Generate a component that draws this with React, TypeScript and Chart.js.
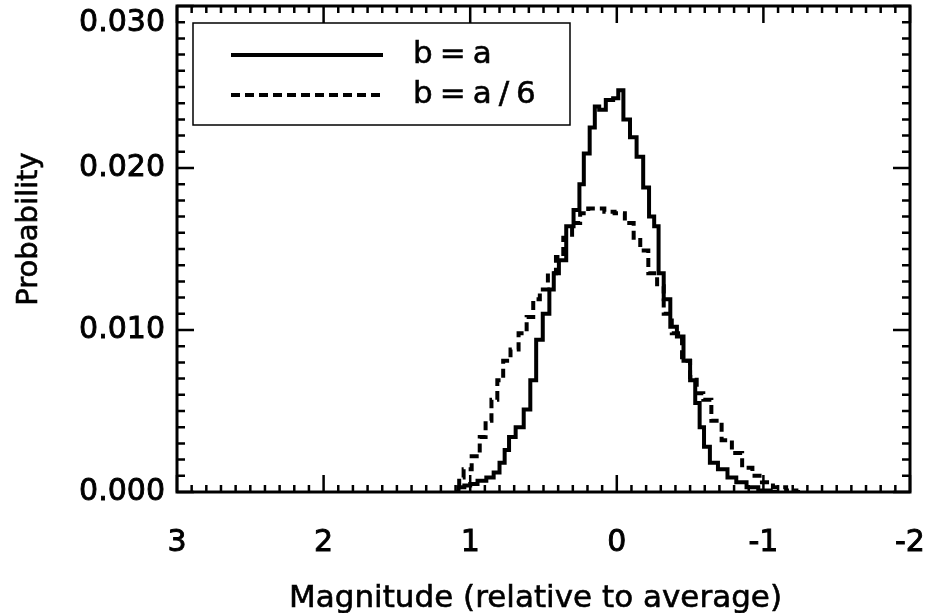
import React, { useEffect, useRef } from "react";
import { Chart, registerables } from "chart.js";

Chart.register(...registerables);

// b=a (solid)
const solidX = [1.10, 1.06, 1.02, 0.98, 0.92, 0.86, 0.82, 0.78, 0.75, 0.72, 0.66, 0.61, 0.57, 0.53, 0.48, 0.44, 0.42, 0.37, 0.32, 0.27, 0.24, 0.21, 0.16, 0.14, 0.10, 0.05, 0.00, -0.02, -0.07, -0.11, -0.16, -0.20, -0.24, -0.27, -0.30, -0.34, -0.39, -0.43, -0.48, -0.52, -0.55, -0.58, -0.61, -0.66, -0.72, -0.79, -0.84, -0.93, -1.00, -1.10];
const solidY = [0.0000, 0.0003, 0.0004, 0.0005, 0.0007, 0.0009, 0.0012, 0.0018, 0.0026, 0.0034, 0.0040, 0.0051, 0.0069, 0.0094, 0.0110, 0.0125, 0.0135, 0.0143, 0.0164, 0.0174, 0.0190, 0.0209, 0.0225, 0.0238, 0.0236, 0.0242, 0.0243, 0.0248, 0.0230, 0.0219, 0.0207, 0.0188, 0.0170, 0.0164, 0.0135, 0.0119, 0.0102, 0.0096, 0.0081, 0.0069, 0.0055, 0.0040, 0.0028, 0.0018, 0.0014, 0.0009, 0.0006, 0.0003, 0.0001, 0.0000];

// b=a/6 (dashed)
const dashX = [1.08, 1.07, 1.02, 0.96, 0.91, 0.88, 0.83, 0.80, 0.75, 0.70, 0.64, 0.59, 0.55, 0.50, 0.44, 0.39, 0.34, 0.27, 0.23, 0.16, 0.12, 0.05, -0.02, -0.09, -0.14, -0.18, -0.25, -0.30, -0.34, -0.41, -0.48, -0.52, -0.57, -0.61, -0.68, -0.75, -0.82, -0.89, -0.96, -1.02, -1.11, -1.20, -1.25];
const dashY = [0.0003, 0.0009, 0.0014, 0.0022, 0.0034, 0.0044, 0.0057, 0.0069, 0.0081, 0.0088, 0.0098, 0.0108, 0.0119, 0.0125, 0.0135, 0.0145, 0.0157, 0.0166, 0.0172, 0.0175, 0.0175, 0.0173, 0.0172, 0.0166, 0.0157, 0.0149, 0.0135, 0.0127, 0.0110, 0.0098, 0.0081, 0.0071, 0.0061, 0.0057, 0.0044, 0.0032, 0.0024, 0.0015, 0.0010, 0.0006, 0.0003, 0.0001, 0.0000];

const seriesLabels = ["b=a", "b=a/6"];
const xTickValues = [3, 2, 1, 0, -1, -2];
const yTickValues = [0, 0.01, 0.02, 0.03];
const xTitle = "Magnitude (relative to average)";
const yTitle = "Probability";

const FONT = "'DejaVu Sans', 'Liberation Sans', Arial, sans-serif";

const frameTicks = {
  id: "frameTicks",
  afterDatasetsDraw(chart: any) {
    const { ctx, chartArea: a, scales } = chart;
    const xs = scales.x;
    const ys = scales.y;
    ctx.save();
    ctx.strokeStyle = "#000";
    ctx.fillStyle = "#000";
    ctx.lineCap = "butt";
    ctx.lineWidth = 2.5;
    // y minor/major ticks every 0.001
    for (let i = 0; i <= 30; i++) {
      const v = i * 0.001;
      const py = ys.getPixelForValue(v);
      const len = i % 10 === 0 ? 17 : 8;
      ctx.beginPath();
      ctx.moveTo(a.left, py);
      ctx.lineTo(a.left + len, py);
      ctx.moveTo(a.right, py);
      ctx.lineTo(a.right - len, py);
      ctx.stroke();
    }
    // x minor/major ticks every 0.1
    for (let i = -20; i <= 30; i++) {
      const v = i * 0.1;
      const px = xs.getPixelForValue(v);
      const len = i % 10 === 0 ? 17 : 7;
      ctx.beginPath();
      ctx.moveTo(px, a.bottom);
      ctx.lineTo(px, a.bottom - len);
      ctx.moveTo(px, a.top);
      ctx.lineTo(px, a.top + len);
      ctx.stroke();
    }
    ctx.lineWidth = 3;
    ctx.strokeRect(a.left, a.top, a.right - a.left, a.bottom - a.top);

    // y tick labels
    ctx.font = `30px ${FONT}`;
    ctx.textAlign = "right";
    ctx.textBaseline = "middle";
    ctx.lineWidth = 0.9;
    yTickValues.forEach((v) => {
      const py = Math.max(ys.getPixelForValue(v), a.top + 17);
      const t = v.toFixed(3);
      ctx.fillText(t, a.left - 12, py);
      ctx.strokeText(t, a.left - 12, py);
    });

    // y title
    ctx.save();
    ctx.translate(29, 229);
    ctx.rotate(-Math.PI / 2);
    ctx.textAlign = "center";
    ctx.textBaseline = "middle";
    ctx.font = `29px ${FONT}`;
    ctx.lineWidth = 0.6;
    ctx.fillText(yTitle, 0, 0);
    ctx.strokeText(yTitle, 0, 0);
    ctx.restore();

    // x title
    ctx.textAlign = "center";
    ctx.textBaseline = "alphabetic";
    ctx.font = `31px ${FONT}`;
    ctx.lineWidth = 0.6;
    const tx = (a.left + a.right) / 2 - 8;
    ctx.fillText(xTitle, tx, 607);
    ctx.strokeText(xTitle, tx, 607);

    // legend box
    const lx = a.left + 16;
    const ly = a.top + 17;
    const lw = 377;
    const lh = 102;
    ctx.lineWidth = 1.5;
    ctx.strokeRect(lx, ly, lw, lh);
    chart.data.datasets.forEach((ds: any, i: number) => {
      const rowY = ly + 32 + i * 40;
      ctx.beginPath();
      ctx.lineWidth = ds.borderWidth;
      ctx.setLineDash(ds.borderDash || []);
      ctx.moveTo(lx + 38, rowY);
      ctx.lineTo(lx + 190, rowY);
      ctx.stroke();
      ctx.setLineDash([]);
      ctx.font = `31px ${FONT}`;
      ctx.textBaseline = "middle";
      ctx.textAlign = "left";
      (ctx as any).letterSpacing = "7px";
      ctx.lineWidth = 0.6;
      ctx.fillText(ds.label, lx + 220, rowY);
      ctx.strokeText(ds.label, lx + 220, rowY);
      (ctx as any).letterSpacing = "0px";
    });
    ctx.restore();
  },
};

export default function App() {
  const ref = useRef<HTMLCanvasElement | null>(null);
  useEffect(() => {
    if (!ref.current) return;
    const chart = new Chart(ref.current, {
      type: "line",
      data: {
        datasets: [
          {
            label: seriesLabels[0],
            data: solidX.map((x, i) => ({ x, y: solidY[i] })),
            borderColor: "#000",
            borderWidth: 4,
            pointRadius: 0,
            stepped: "middle",
            fill: false,
          },
          {
            label: seriesLabels[1],
            data: dashX.map((x, i) => ({ x, y: dashY[i] })),
            borderColor: "#000",
            borderWidth: 4,
            borderDash: [9, 5],
            pointRadius: 0,
            stepped: "middle",
            fill: false,
          },
        ],
      },
      options: {
        animation: false,
        responsive: true,
        maintainAspectRatio: false,
        layout: { padding: { top: 6, right: 15, left: 0, bottom: 0 } },
        plugins: { legend: { display: false }, tooltip: { enabled: false } },
        scales: {
          x: {
            type: "linear",
            reverse: true,
            min: -2,
            max: 3,
            afterFit: (s: any) => {
              s.height = 121;
              s.paddingLeft = 0;
              s.paddingRight = 0;
            },
            afterBuildTicks: (s: any) => {
              s.ticks = xTickValues.map((v) => ({ value: v }));
            },
            grid: { display: false, drawTicks: false },
            border: { display: false },
            ticks: {
              color: "#000",
              padding: 33,
              maxRotation: 0,
              font: { family: FONT, size: 30 },
              textStrokeColor: "#000",
              textStrokeWidth: 0.9,
              callback: (v: any) => String(v),
            },
            title: { display: false, text: xTitle },
          },
          y: {
            type: "linear",
            min: 0,
            max: 0.03,
            afterFit: (s: any) => {
              s.width = 177;
              s.paddingTop = 0;
              s.paddingBottom = 0;
            },
            afterBuildTicks: (s: any) => {
              s.ticks = yTickValues.map((v) => ({ value: v }));
            },
            grid: { display: false, drawTicks: false },
            border: { display: false },
            ticks: { display: false },
            title: { display: false, text: yTitle },
          },
        },
      },
      plugins: [frameTicks],
    });
    return () => chart.destroy();
  }, []);
  return (
    <div style={{ position: "fixed", left: 0, top: 0, width: 925, height: 613, background: "#fff" }}>
      <canvas ref={ref} />
    </div>
  );
}
